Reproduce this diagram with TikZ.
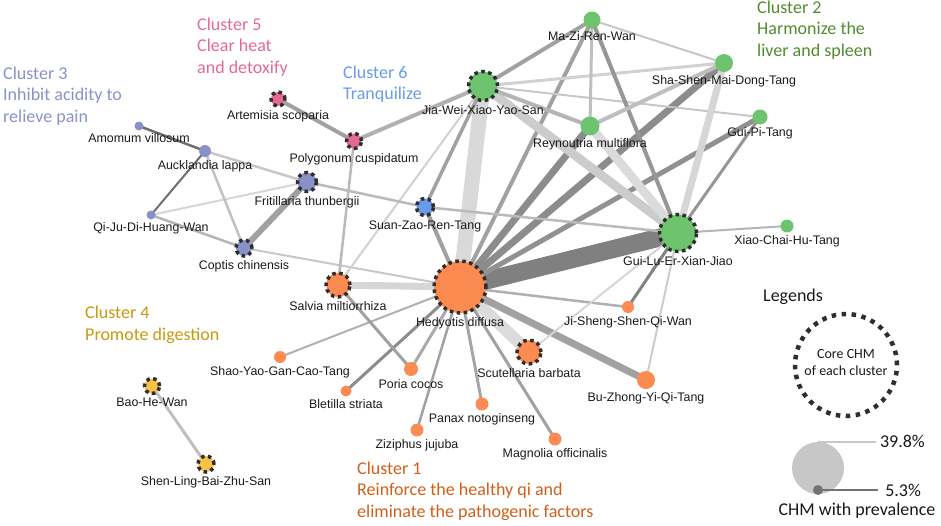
\documentclass[tikz,border=0pt]{standalone}
\usepackage{fontspec}
\setmainfont{Carlito}
\newfontfamily\arial{Liberation Sans}
\usetikzlibrary{backgrounds}
\definecolor{cOne}{RGB}{252,139,82}
\definecolor{cTwo}{RGB}{110,196,110}
\definecolor{cThree}{RGB}{136,146,200}
\definecolor{cFour}{RGB}{250,194,72}
\definecolor{cFive}{RGB}{228,106,145}
\definecolor{cSix}{RGB}{105,155,232}
\definecolor{tOne}{RGB}{210,95,25}
\definecolor{tTwo}{RGB}{80,140,45}
\definecolor{tFour}{RGB}{200,152,15}
\tikzset{
  herb/.style={circle,inner sep=0pt,fill=#1},
  core/.style={draw=black!82,line width=3.5pt,dash pattern=on 3.5pt off 3.5pt},
  lk/.style 2 args={line width=#1pt,draw=black!#2},
  ttl/.style={anchor=west,align=left,inner sep=0pt,font=\fontsize{18}{21.5}\selectfont}
}
\begin{document}
\begin{tikzpicture}[x=1pt,y=-1pt,label distance=3pt,
  every label/.style={font=\arial\fontsize{12.4}{14}\selectfont,inner sep=0pt,text=black!90}]
\useasboundingbox (0,0) rectangle (941,525);
% cluster 1
\node[herb=cOne,core,minimum size=52pt,label=below:Hedyotis diffusa] (hd) at (460,287) {};
\node[herb=cOne,core,minimum size=24pt,label=below:Salvia miltiorrhiza] (sm) at (338,285) {};
\node[herb=cOne,core,minimum size=24pt,label=below:Scutellaria barbata] (sb) at (529,352) {};
\node[herb=cOne,minimum size=12pt,label=below:Shao-Yao-Gan-Cao-Tang] (sy) at (280,357) {};
\node[herb=cOne,minimum size=14pt,label=below:Poria cocos] (po) at (411,369) {};
\node[herb=cOne,minimum size=11pt,label=below:Bletilla striata] (bs) at (346,391) {};
\node[herb=cOne,minimum size=13pt,label=below:Ziziphus jujuba] (zj) at (417,430) {};
\node[herb=cOne,minimum size=13pt,label=below:Panax notoginseng] (pn) at (482,404) {};
\node[herb=cOne,minimum size=13pt,label=below:Magnolia officinalis] (mo) at (555,439) {};
\node[herb=cOne,minimum size=18pt,label=below:Bu-Zhong-Yi-Qi-Tang] (bz) at (646,380) {};
\node[herb=cOne,minimum size=12pt,label=below:Ji-Sheng-Shen-Qi-Wan] (js) at (628,307) {};
% cluster 2
\node[herb=cTwo,core,minimum size=37pt,label=below:Gui-Lu-Er-Xian-Jiao] (gl) at (678,233) {};
\node[herb=cTwo,core,minimum size=29pt,label=below:Jia-Wei-Xiao-Yao-San] (jw) at (483,86) {};
\node[herb=cTwo,minimum size=17pt,label=below:Ma-Zi-Ren-Wan] (mz) at (592,20) {};
\node[herb=cTwo,minimum size=18pt,label=below:Sha-Shen-Mai-Dong-Tang] (ss) at (724,63) {};
\node[herb=cTwo,minimum size=19pt,label=below:Reynoutria multiflora] (rm) at (590,126) {};
\node[herb=cTwo,minimum size=15pt,label=below:Gui-Pi-Tang] (gp) at (760,117) {};
\node[herb=cTwo,minimum size=13pt,label=below:Xiao-Chai-Hu-Tang] (xc) at (787,226) {};
% cluster 3
\node[herb=cThree,core,minimum size=19pt,label=below:Fritillaria thunbergii] (ft) at (307,182) {};
\node[herb=cThree,core,minimum size=16pt,label=below:Coptis chinensis] (cc) at (244,248) {};
\node[herb=cThree,minimum size=12pt,label=below:Aucklandia lappa] (al) at (205,151) {};
\node[herb=cThree,minimum size=9pt,label=below:Amomum villosum] (av) at (139,126) {};
\node[herb=cThree,minimum size=9pt,label=below:Qi-Ju-Di-Huang-Wan] (qj) at (151,215) {};
% cluster 4
\node[herb=cFour,core,minimum size=15pt,label=below:Bao-He-Wan] (bh) at (152,386) {};
\node[herb=cFour,core,minimum size=16pt,label=below:Shen-Ling-Bai-Zhu-San] (sl) at (206,464) {};
% cluster 5
\node[herb=cFive,core,minimum size=15pt,label=below:Polygonum cuspidatum] (pc) at (354,141) {};
\node[herb=cFive,core,minimum size=14pt,label=below:Artemisia scoparia] (as) at (278,99) {};
% cluster 6
\node[herb=cSix,core,minimum size=17pt,label=below:Suan-Zao-Ren-Tang] (sz) at (425,207) {};

\begin{pgfonlayer}{background}
\draw[lk={18}{50}] (hd.center) -- (gl.center);
\draw[lk={15}{15}] (hd.center) -- (jw.center);
\draw[lk={12}{14}] (hd.center) -- (sb.center);
\draw[lk={7}{16}] (hd.center) -- (sm.center);
\draw[lk={7}{45}] (hd.center) -- (ss.center);
\draw[lk={7}{45}] (hd.center) -- (rm.center);
\draw[lk={7}{37}] (hd.center) -- (bz.center);
\draw[lk={5}{43}] (hd.center) -- (gp.center);
\draw[lk={4}{37}] (hd.center) -- (mz.center);
\draw[lk={4}{37}] (hd.center) -- (sz.center);
\draw[lk={2}{22}] (hd.center) -- (cc.center);
\draw[lk={2}{31}] (hd.center) -- (sy.center);
\draw[lk={3}{45}] (hd.center) -- (bs.center);
\draw[lk={3}{33}] (hd.center) -- (po.center);
\draw[lk={2.5}{37}] (hd.center) -- (zj.center);
\draw[lk={3}{35}] (hd.center) -- (pn.center);
\draw[lk={3}{37}] (hd.center) -- (mo.center);
\draw[lk={2.5}{31}] (hd.center) -- (js.center);
\draw[lk={9}{20}] (jw.center) -- (gl.center);
\draw[lk={4}{37}] (jw.center) -- (mz.center);
\draw[lk={4}{29}] (jw.center) -- (rm.center);
\draw[lk={3}{18}] (jw.center) -- (ss.center);
\draw[lk={2}{22}] (jw.center) -- (gp.center);
\draw[lk={3.5}{37}] (jw.center) -- (sz.center);
\draw[lk={4}{31}] (jw.center) -- (pc.center);
\draw[lk={2}{18}] (jw.center) -- (sm.center);
\draw[lk={2}{22}] (mz.center) -- (ss.center);
\draw[lk={3}{25}] (mz.center) -- (rm.center);
\draw[lk={4}{41}] (mz.center) -- (gl.center);
\draw[lk={4}{25}] (rm.center) -- (ss.center);
\draw[lk={9}{14}] (rm.center) -- (gl.center);
\draw[lk={7}{16}] (ss.center) -- (gl.center);
\draw[lk={3}{41}] (gp.center) -- (gl.center);
\draw[lk={2}{29}] (xc.center) -- (gl.center);
\draw[lk={3}{49}] (gl.center) -- (js.center);
\draw[lk={2}{20}] (gl.center) -- (bz.center);
\draw[lk={2}{16}] (gl.center) -- (sb.center);
\draw[lk={2.5}{27}] (sz.center) -- (gl.center);
\draw[lk={2.5}{27}] (ft.center) -- (sz.center);
\draw[lk={4}{37}] (pc.center) -- (as.center);
\draw[lk={2.5}{27}] (pc.center) -- (sm.center);
\draw[lk={6}{37}] (ft.center) -- (cc.center);
\draw[lk={2.5}{22}] (ft.center) -- (al.center);
\draw[lk={2}{16}] (ft.center) -- (qj.center);
\draw[lk={2.5}{57}] (av.center) -- (al.center);
\draw[lk={2}{57}] (al.center) -- (qj.center);
\draw[lk={2.5}{24}] (al.center) -- (cc.center);
\draw[lk={2.5}{29}] (qj.center) -- (cc.center);
\draw[lk={3}{37}] (sm.center) -- (po.center);
\draw[lk={3}{25}] (bh.center) -- (sl.center);
\end{pgfonlayer}

% cluster titles
\node[ttl,text=tOne] (tc1) at (357,491) {Cluster 1\\Reinforce the healthy qi and\\eliminate the pathogenic factors};
\node[ttl,text=tTwo] (tc2) at (757,30) {Cluster 2\\Harmonize the\\liver and spleen};
\node[ttl,text=cThree] (tc3) at (3,96) {Cluster 3\\Inhibit acidity to\\relieve pain};
\node[ttl,text=tFour] (tc4) at (85,325) {Cluster 4\\Promote digestion};
\node[ttl,text=cFive] (tc5) at (197,47) {Cluster 5\\Clear heat\\and detoxify};
\node[ttl,text=cSix] (tc6) at (343,84) {Cluster 6\\Tranquilize};

% legend
\node[ttl,text=black!90] (leg) at (763,297) {Legends};
\node[circle,draw=black!82,line width=4.5pt,dash pattern=on 4.5pt off 5.5pt,minimum size=102pt] (ring) at (846,365) {};
\node[align=center,inner sep=0pt,font=\fontsize{14}{17}\selectfont,text=black!90] (ringtxt) at (846,363) {Core CHM\\of each cluster};
\node[herb=black!22,minimum size=52pt] (big) at (818,468) {};
\node[herb=black!55,minimum size=10pt] (small) at (818,490) {};
\draw[lk={2}{22}] (big.north) -- ++(58,0) node[ttl,right=3pt,text=black!90] (pmax) {39.8\%};
\draw[lk={2.5}{55}] (small.center) -- ++(60,0) node[ttl,right=6pt,text=black!90] (pmin) {5.3\%};
\node[inner sep=0pt,font=\fontsize{18}{21.5}\selectfont,text=black!90] (prev) at (857,511) {CHM with prevalence};
\end{tikzpicture}
\end{document}
